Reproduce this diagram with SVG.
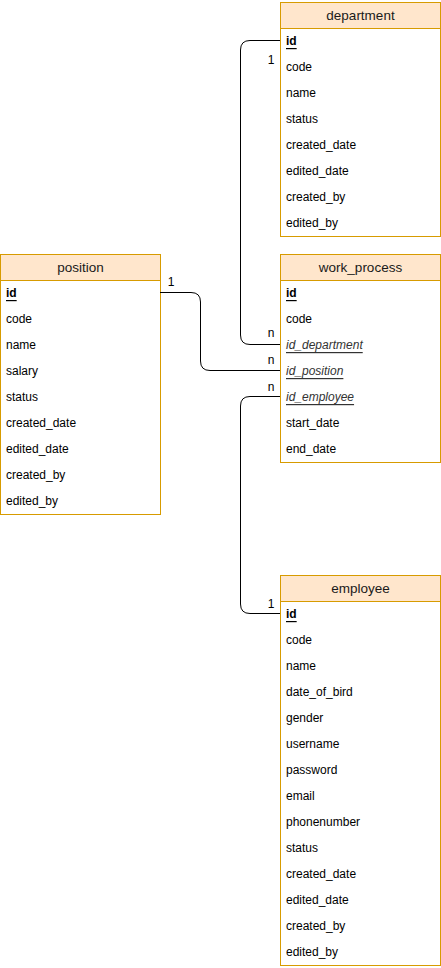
<svg xmlns="http://www.w3.org/2000/svg" width="441" height="968" viewBox="0 0 441 968">
<style>
.tbl{fill:#ffffff;stroke:#d79b00;stroke-width:1}
.hdr{fill:#ffe6cc;stroke:#d79b00;stroke-width:1}
.ht{font-family:"Liberation Sans",Arial,sans-serif;font-size:13.5px;fill:#1a1a1a;text-anchor:middle;dominant-baseline:central}
.rt{font-family:"Liberation Sans",Arial,sans-serif;font-size:12px;fill:#000;dominant-baseline:central}
.pk{font-weight:bold;text-decoration:underline}
.fk{font-style:italic;text-decoration:underline;fill:#333}
.lbl{font-family:"Liberation Sans",Arial,sans-serif;font-size:12px;fill:#000;dominant-baseline:central;text-anchor:middle}
.edge{fill:none;stroke:#000;stroke-width:1}
</style>
<rect width="441" height="968" fill="#ffffff"/>
<g id="department">
<rect class="tbl" x="280.5" y="2.5" width="160" height="234"/>
<rect class="hdr" x="280.5" y="2.5" width="160" height="26"/>
<text class="ht" x="360.5" y="15.5">department</text>
<text class="rt pk" x="286" y="41">id</text>
<text class="rt" x="286" y="67">code</text>
<text class="rt" x="286" y="93">name</text>
<text class="rt" x="286" y="119">status</text>
<text class="rt" x="286" y="145">created_date</text>
<text class="rt" x="286" y="171">edited_date</text>
<text class="rt" x="286" y="197">created_by</text>
<text class="rt" x="286" y="223">edited_by</text>
</g>
<g id="position">
<rect class="tbl" x="0.5" y="254.5" width="160" height="260"/>
<rect class="hdr" x="0.5" y="254.5" width="160" height="26"/>
<text class="ht" x="80.5" y="267.5">position</text>
<text class="rt pk" x="6" y="293">id</text>
<text class="rt" x="6" y="319">code</text>
<text class="rt" x="6" y="345">name</text>
<text class="rt" x="6" y="371">salary</text>
<text class="rt" x="6" y="397">status</text>
<text class="rt" x="6" y="423">created_date</text>
<text class="rt" x="6" y="449">edited_date</text>
<text class="rt" x="6" y="475">created_by</text>
<text class="rt" x="6" y="501">edited_by</text>
</g>
<g id="work_process">
<rect class="tbl" x="280.5" y="254.5" width="160" height="208"/>
<rect class="hdr" x="280.5" y="254.5" width="160" height="26"/>
<text class="ht" x="360.5" y="267.5">work_process</text>
<text class="rt pk" x="286" y="293">id</text>
<text class="rt" x="286" y="319">code</text>
<text class="rt fk" x="286" y="345">id_department</text>
<text class="rt fk" x="286" y="371">id_position</text>
<text class="rt fk" x="286" y="397">id_employee</text>
<text class="rt" x="286" y="423">start_date</text>
<text class="rt" x="286" y="449">end_date</text>
</g>
<g id="employee">
<rect class="tbl" x="280.5" y="575.5" width="160" height="390"/>
<rect class="hdr" x="280.5" y="575.5" width="160" height="26"/>
<text class="ht" x="360.5" y="588.5">employee</text>
<text class="rt pk" x="286" y="614">id</text>
<text class="rt" x="286" y="640">code</text>
<text class="rt" x="286" y="666">name</text>
<text class="rt" x="286" y="692">date_of_bird</text>
<text class="rt" x="286" y="718">gender</text>
<text class="rt" x="286" y="744">username</text>
<text class="rt" x="286" y="770">password</text>
<text class="rt" x="286" y="796">email</text>
<text class="rt" x="286" y="822">phonenumber</text>
<text class="rt" x="286" y="848">status</text>
<text class="rt" x="286" y="874">created_date</text>
<text class="rt" x="286" y="900">edited_date</text>
<text class="rt" x="286" y="926">created_by</text>
<text class="rt" x="286" y="952">edited_by</text>
</g>
<g id="connectors">
<path class="edge" d="M280,40.5 H250 Q240.5,40.5 240.5,50 V335 Q240.5,344.5 250,344.5 H280"/>
<path class="edge" d="M160,292.5 H191 Q200.5,292.5 200.5,302 V361 Q200.5,370.5 210,370.5 H280"/>
<path class="edge" d="M280,396.5 H250 Q240.5,396.5 240.5,406 V604 Q240.5,613.5 250,613.5 H280"/>
<text class="lbl" x="271" y="60">1</text>
<text class="lbl" x="271" y="333">n</text>
<text class="lbl" x="171" y="282">1</text>
<text class="lbl" x="271" y="360">n</text>
<text class="lbl" x="271" y="387">n</text>
<text class="lbl" x="271" y="604">1</text>
</g>
</svg>
